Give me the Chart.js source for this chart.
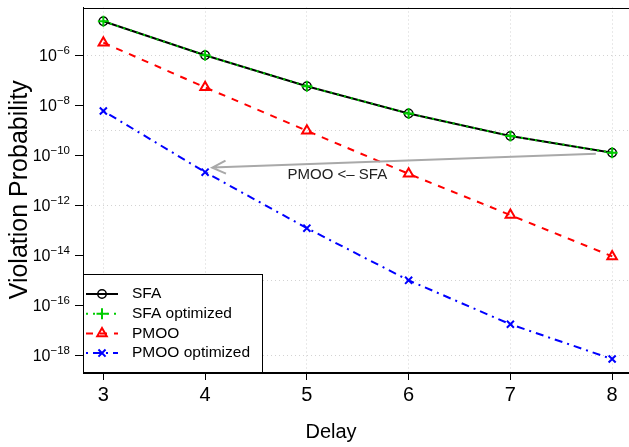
<!DOCTYPE html>
<html>
<head>
<meta charset="utf-8">
<title>Violation Probability</title>
<script src="https://cdn.jsdelivr.net/npm/chart.js"></script>
<style>
  html, body { margin: 0; padding: 0; overflow: hidden; background: #fff; }
  #wrap { width: 640px; height: 447px; }
</style>
</head>
<body>
<div id="wrap"><canvas id="myChart" width="640" height="447"></canvas></div>
<script>
const delays = [3, 4, 5, 6, 7, 8];
const sfa = [2.3e-5, 1.0e-6, 5.8e-8, 4.7e-9, 5.9e-10, 1.26e-10];
const sfaOptimized = [2.3e-5, 1.0e-6, 5.8e-8, 4.7e-9, 5.9e-10, 1.26e-10];
const pmoo = [3.2e-6, 5.2e-8, 9.5e-10, 1.8e-11, 4.0e-13, 8.9e-15];
const pmooOptimized = [5.9e-9, 2.1e-11, 1.2e-13, 9.8e-16, 1.7e-17, 6.9e-19];

const yTickExponents = [-6, -8, -10, -12, -14, -16, -18];
const yGridExponents = [-6, -9, -12, -15, -18];

// annotation arrow, in data units
const arrowFrom = [7.84, 1.15e-10];
const arrowTo = [4.07, 3.2e-11];
const arrowLabel = 'PMOO <\u2013 SFA';
const arrowLabelAt = [5.3, 1.66e-11];

const FONT = "'Liberation Sans', Arial, Helvetica, sans-serif";
const toXY = ys => delays.map((d, i) => ({x: d, y: ys[i]}));
const none = 'rgba(0,0,0,0)';

const series = [
  {label: 'SFA', data: toXY(sfa), color: '#000000', dash: [], style: 'circle', r: 4.2, bw: 1.5, order: 4},
  {label: 'SFA optimized', data: toXY(sfaOptimized), color: '#00CD00', dash: [2, 5], style: 'cross', r: 5.5, bw: 2, order: 3},
  {label: 'PMOO', data: toXY(pmoo), color: '#FF0000', dash: [7, 7], style: 'triangle', r: 5.5, bw: 2, order: 2},
  {label: 'PMOO optimized', data: toXY(pmooOptimized), color: '#0000FF', dash: [2, 5, 8, 5], style: 'crossRot', r: 5, bw: 2, order: 1}
];

const setTicks = list => s => { s.ticks = list.map(v => ({value: v})); };
const pow10 = e => Math.pow(10, e);
const yMin = pow10(-18.68), yMax = pow10(-4.086);

const extras = {
  id: 'extras',
  afterDraw(chart) {
    const {ctx, chartArea: a, scales: {x, y}} = chart;
    ctx.save();

    // plot box
    ctx.strokeStyle = '#000';
    ctx.lineWidth = 1;
    ctx.strokeRect(Math.round(a.left) + 0.5, Math.round(a.top) + 0.5, a.right - a.left, Math.round(a.bottom - a.top));

    // y tick labels 10^-n
    ctx.fillStyle = '#000';
    ctx.textAlign = 'right';
    ctx.textBaseline = 'alphabetic';
    yTickExponents.forEach(e => {
      const py = y.getPixelForValue(pow10(e));
      const sup = '\u2212' + Math.abs(e);
      ctx.font = '11.5px ' + FONT;
      const sw = ctx.measureText(sup).width;
      ctx.fillText(sup, 70, py - 1);
      ctx.font = '16px ' + FONT;
      ctx.fillText('10', 70 - sw, py + 6);
    });

    // axis titles
    ctx.font = '20px ' + FONT;
    ctx.textAlign = 'center';
    ctx.textBaseline = 'middle';
    ctx.fillText('Delay', 331, 432);
    ctx.save();
    ctx.font = '25px ' + FONT;
    ctx.translate(20, (a.top + a.bottom) / 2);
    ctx.rotate(-Math.PI / 2);
    ctx.fillText('Violation Probability', 0, 0);
    ctx.restore();

    // arrow
    const x0 = x.getPixelForValue(arrowFrom[0]), y0 = y.getPixelForValue(arrowFrom[1]);
    const x1 = x.getPixelForValue(arrowTo[0]), y1 = y.getPixelForValue(arrowTo[1]);
    const ang = Math.atan2(y0 - y1, x0 - x1);
    const hl = 15, ha = Math.PI / 7;
    ctx.strokeStyle = '#A9A9A9';
    ctx.lineWidth = 2;
    ctx.beginPath();
    ctx.moveTo(x0, y0);
    ctx.lineTo(x1, y1);
    ctx.moveTo(x1 + hl * Math.cos(ang - ha), y1 + hl * Math.sin(ang - ha));
    ctx.lineTo(x1, y1);
    ctx.lineTo(x1 + hl * Math.cos(ang + ha), y1 + hl * Math.sin(ang + ha));
    ctx.stroke();
    ctx.fillStyle = '#222';
    ctx.font = '15px ' + FONT;
    ctx.fillText(arrowLabel, x.getPixelForValue(arrowLabelAt[0]), y.getPixelForValue(arrowLabelAt[1]));

    // legend (bottom left, R style)
    const lx = Math.round(a.left) + 0.5, ly = 274.5, lw = 179, lh = Math.round(a.bottom) - 274;
    ctx.fillStyle = '#fff';
    ctx.fillRect(lx, ly, lw, lh);
    ctx.strokeStyle = '#000';
    ctx.lineWidth = 1;
    ctx.strokeRect(lx, ly, lw, lh);
    series.forEach((s, i) => {
      const ry = 294 + i * 19.7;
      ctx.strokeStyle = s.color;
      ctx.lineWidth = 2;
      ctx.setLineDash(s.dash);
      ctx.beginPath();
      ctx.moveTo(86, ry);
      ctx.lineTo(118, ry);
      ctx.stroke();
      ctx.setLineDash([]);
      ctx.fillStyle = none;
      ctx.lineWidth = s.bw;
      Chart.helpers.drawPoint(ctx, {pointStyle: s.style, radius: s.r, rotation: 0, borderWidth: s.bw}, 102, ry);
      ctx.fillStyle = '#000';
      ctx.font = '15.5px ' + FONT;
      ctx.textAlign = 'left';
      ctx.fillText(s.label, 132, ry);
    });

    ctx.restore();
  }
};

const ctx = document.getElementById('myChart').getContext('2d');
const chart = new Chart(ctx, {
  type: 'line',
  data: {
    datasets: series.map(s => ({
      label: s.label,
      data: s.data,
      borderColor: s.color,
      borderWidth: 2,
      borderDash: s.dash,
      fill: false,
      tension: 0,
      pointStyle: s.style,
      pointRadius: s.r,
      pointBorderWidth: s.bw,
      pointBorderColor: s.color,
      pointBackgroundColor: none,
      order: s.order
    }))
  },
  options: {
    responsive: false,
    animation: false,
    events: [],
    layout: {padding: {top: 6, right: 7.5, left: 0, bottom: 0}},
    plugins: {legend: {display: false}, tooltip: {enabled: false}},
    scales: {
      x: {
        type: 'linear', position: 'bottom', min: 2.8, max: 8.2,
        afterBuildTicks: setTicks(delays),
        afterFit: s => { s.height = 75; },
        grid: {drawOnChartArea: false, tickLength: 8, color: '#000', tickColor: '#000'},
        border: {display: true, color: '#000', width: 1},
        ticks: {font: {family: FONT, size: 20}, color: '#000', padding: 3, autoSkip: false, maxRotation: 0}
      },
      xg: {
        type: 'linear', position: 'bottom', min: 2.8, max: 8.2,
        afterBuildTicks: setTicks(delays),
        afterFit: s => { s.height = 0; },
        ticks: {display: false},
        grid: {drawTicks: false, color: '#D3D3D3', lineWidth: 1},
        border: {display: false, dash: [1, 3]}
      },
      y: {
        type: 'logarithmic', position: 'left', min: yMin, max: yMax,
        afterBuildTicks: setTicks(yTickExponents.map(pow10)),
        afterFit: s => { s.width = 83; },
        grid: {drawOnChartArea: false, tickLength: 8, color: '#000', tickColor: '#000'},
        border: {display: true, color: '#000', width: 1},
        ticks: {callback: () => '', font: {size: 1}}
      },
      yg: {
        type: 'logarithmic', position: 'left', min: yMin, max: yMax,
        afterBuildTicks: setTicks(yGridExponents.map(pow10)),
        afterFit: s => { s.width = 0; },
        ticks: {display: false},
        grid: {drawTicks: false, color: '#D3D3D3', lineWidth: 1},
        border: {display: false, dash: [1, 3]}
      }
    }
  },
  plugins: [extras]
});
</script>
</body>
</html>
